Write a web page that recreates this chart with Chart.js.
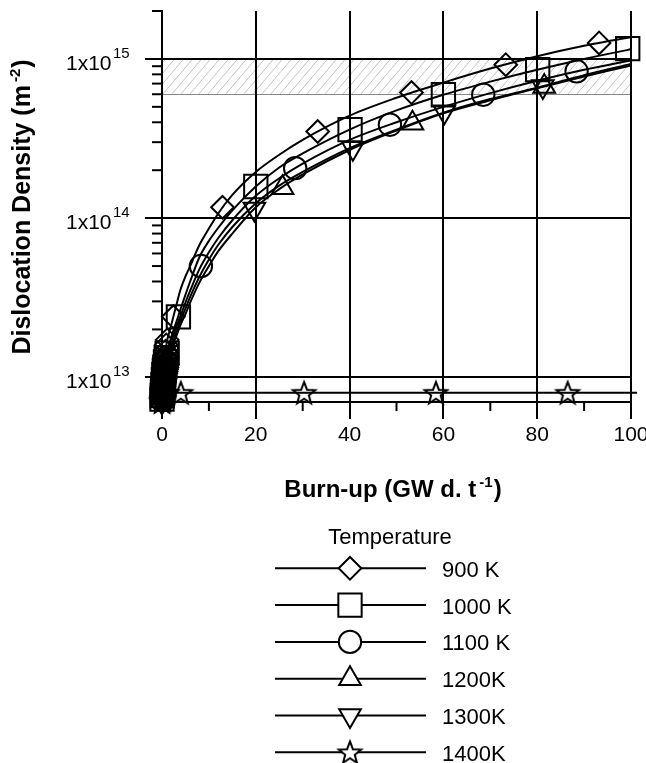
<!DOCTYPE html>
<html>
<head>
<meta charset="utf-8">
<script src="https://cdn.jsdelivr.net/npm/chart.js@4.4.0/dist/chart.umd.min.js"></script>
<style>
  html, body { margin: 0; padding: 0; background: #fff; }
  #wrap { width: 646px; height: 763px; position: relative; }
</style>
</head>
<body>
<div id="wrap"><canvas id="chart"></canvas></div>
<script>
/* Dislocation density vs burn-up, one curve per temperature */

// fitted curves, sampled at these burn-up values
const curveX    = [0, 0.5, 1, 1.5, 2, 3, 4, 5, 6, 8, 10, 12, 15, 20, 25, 30, 40, 50, 60, 70, 80, 90, 100, 101.3];
const curve900  = [7.5e12, 1.25e13, 1.65e13, 1.9e13, 2.15e13, 2.8e13, 3.6e13, 4.3e13, 5.0e13, 6.8e13, 8.6e13, 1.07e14, 1.4e14, 1.95e14, 2.5e14, 3.1e14, 4.4e14, 5.7e14, 7.1e14, 8.7e14, 1.04e15, 1.21e15, 1.37e15, 1.39e15];
const curve1000 = [7.3e12, 1.1e13, 1.38e13, 1.6e13, 1.8e13, 2.2e13, 2.7e13, 3.3e13, 4.0e13, 5.7e13, 7.2e13, 8.7e13, 1.12e14, 1.58e14, 2.08e14, 2.55e14, 3.6e14, 4.75e14, 5.96e14, 7.2e14, 8.55e14, 1.0e15, 1.15e15, 1.17e15];
const curve1100 = [7.2e12, 1.05e13, 1.3e13, 1.5e13, 1.68e13, 2.05e13, 2.45e13, 2.95e13, 3.5e13, 4.8e13, 6.1e13, 7.5e13, 9.7e13, 1.38e14, 1.78e14, 2.2e14, 3.1e14, 4.0e14, 5.0e14, 6.1e14, 7.3e14, 8.55e14, 9.8e14, 1.0e15];
const curve1200 = [7.1e12, 1.0e13, 1.23e13, 1.42e13, 1.58e13, 1.9e13, 2.3e13, 2.7e13, 3.2e13, 4.3e13, 5.5e13, 6.8e13, 8.8e13, 1.24e14, 1.6e14, 1.95e14, 2.75e14, 3.6e14, 4.6e14, 5.6e14, 6.6e14, 7.9e14, 9.3e14, 9.5e14];
const curve1300 = [7.0e12, 9.6e12, 1.17e13, 1.35e13, 1.5e13, 1.8e13, 2.15e13, 2.5e13, 2.95e13, 3.95e13, 5.0e13, 6.2e13, 8.0e13, 1.17e14, 1.52e14, 1.88e14, 2.68e14, 3.55e14, 4.55e14, 5.5e14, 6.55e14, 7.75e14, 9.1e14, 9.3e14];
const curve1400X = [0, 101.3];
const curve1400  = [8e12, 8e12];

// symbols (a dense cluster of early points near zero burn-up)
const mark900X  = [0, 0.05, 0.1, 0.15, 0.2, 0.3, 0.4, 0.5, 0.6, 0.75, 0.9, 1.1, 2.4, 12.9, 33.2, 53.2, 73.3, 93.2];
const mark900Y  = [7.5e12, 8.0e12, 8.6e12, 9.2e12, 9.8e12, 1.07e13, 1.16e13, 1.25e13, 1.33e13, 1.46e13, 1.6e13, 1.72e13, 2.4e13, 1.17e14, 3.5e14, 6.15e14, 9.2e14, 1.26e15];
const mark1000X = [0, 0.05, 0.1, 0.15, 0.2, 0.3, 0.4, 0.5, 0.6, 0.75, 0.9, 1.1, 3.5, 20, 40.1, 60, 80.1, 99.3];
const mark1000Y = [7.3e12, 7.7e12, 8.1e12, 8.5e12, 9.0e12, 9.7e12, 1.04e13, 1.1e13, 1.16e13, 1.25e13, 1.33e13, 1.42e13, 2.4e13, 1.58e14, 3.6e14, 5.96e14, 8.56e14, 1.16e15];
const mark1100X = [0, 0.05, 0.1, 0.15, 0.2, 0.3, 0.4, 0.5, 0.6, 0.75, 0.9, 1.1, 8.3, 28.4, 48.6, 68.5, 88.4];
const mark1100Y = [7.2e12, 7.6e12, 8.0e12, 8.4e12, 8.8e12, 9.4e12, 1.0e13, 1.05e13, 1.1e13, 1.18e13, 1.26e13, 1.34e13, 5.0e13, 2.06e14, 3.86e14, 5.96e14, 8.36e14];
const mark1200X = [0, 0.05, 0.1, 0.15, 0.2, 0.3, 0.4, 0.5, 0.6, 0.75, 0.9, 1.1, 25.7, 53.4, 81.5];
const mark1200Y = [7.1e12, 7.4e12, 7.8e12, 8.1e12, 8.5e12, 9.0e12, 9.5e12, 1.0e13, 1.05e13, 1.12e13, 1.2e13, 1.27e13, 1.55e14, 3.95e14, 6.7e14];
const mark1300X = [0, 0.05, 0.1, 0.15, 0.2, 0.3, 0.4, 0.5, 0.6, 0.75, 0.9, 1.1, 19.7, 40.7, 60.2, 81.2];
const mark1300Y = [7.0e12, 7.3e12, 7.6e12, 7.9e12, 8.2e12, 8.7e12, 9.2e12, 9.6e12, 1.0e13, 1.07e13, 1.14e13, 1.21e13, 1.14e14, 2.75e14, 4.65e14, 6.7e14];
const mark1400X = [0, 0.05, 0.1, 0.15, 0.2, 0.3, 0.4, 0.5, 0.6, 0.75, 0.9, 1.1, 4.0, 30.3, 58.4, 86.5];
const mark1400Y = [7.0e12, 7.1e12, 7.2e12, 7.3e12, 7.4e12, 7.5e12, 7.6e12, 7.7e12, 7.8e12, 7.9e12, 8.0e12, 8.0e12, 8.0e12, 8.0e12, 8.0e12, 8.0e12];

const seriesNames = ['900 K', '1000 K', '1100 K', '1200K', '1300K', '1400K'];

// axes
const xTickStep   = 20;
const xMinorTicks = [10, 30, 50, 70, 90];
const yMajorTicks = [1e13, 1e14, 1e15];
const yTickExp    = ['13', '14', '15'];
const yMinorTicks = [8e12, 9e12, 2e13, 3e13, 4e13, 5e13, 6e13, 7e13, 8e13, 9e13,
                     2e14, 3e14, 4e14, 5e14, 6e14, 7e14, 8e14, 9e14, 2e15];
const hatchLow  = 6e14;
const hatchHigh = 1e15;

const FONT = '"Liberation Sans", Arial, sans-serif';

function makeStar(fill) {
    const c = document.createElement('canvas');
    c.width = 30; c.height = 30;
    const g = c.getContext('2d');
    const outer = 11.8, inner = 5.0, cx = 15, cy = 16;
    g.beginPath();
    for (let i = 0; i < 10; i++) {
        const r = i % 2 ? inner : outer;
        const a = -Math.PI / 2 + i * Math.PI / 5;
        g.lineTo(cx + r * Math.cos(a), cy + r * Math.sin(a));
    }
    g.closePath();
    if (fill) { g.fillStyle = '#fff'; g.fill(); }
    g.lineWidth = 2; g.strokeStyle = '#000';
    g.stroke();
    return c;
}
const starPlot = makeStar(false);
const starLegend = makeStar(true);

const symbols = [
    { pointStyle: 'rectRot', radius: 11.3, rotation: 0 },
    { pointStyle: 'rect', radius: 16.5, rotation: 0 },
    { pointStyle: 'circle', radius: 11.2, rotation: 0 },
    { pointStyle: 'triangle', radius: 12.5, rotation: 0 },
    { pointStyle: 'triangle', radius: 12.5, rotation: 180 },
    { pointStyle: starPlot, radius: 12, rotation: 0 }
];

const pts = (xs, ys) => xs.map((x, i) => ({ x, y: ys[i] }));
const curves = [
    pts(curveX, curve900), pts(curveX, curve1000), pts(curveX, curve1100),
    pts(curveX, curve1200), pts(curveX, curve1300), pts(curve1400X, curve1400)
];
const marks = [
    pts(mark900X, mark900Y), pts(mark1000X, mark1000Y), pts(mark1100X, mark1100Y),
    pts(mark1200X, mark1200Y), pts(mark1300X, mark1300Y), pts(mark1400X, mark1400Y)
];

const datasets = [];
curves.forEach((c, i) => datasets.push({
    label: seriesNames[i] + ' fit', data: c, order: 2, clip: false,
    borderColor: '#000', borderWidth: 2, pointRadius: 0,
    cubicInterpolationMode: 'monotone', fill: false
}));
marks.forEach((m, i) => datasets.push({
    label: seriesNames[i], data: m, order: 1, clip: false, showLine: false,
    pointStyle: symbols[i].pointStyle, pointRadius: symbols[i].radius,
    pointRotation: symbols[i].rotation,
    pointBorderColor: '#000', pointBorderWidth: 2, pointBackgroundColor: 'rgba(0,0,0,0)'
}));

const hatchPlugin = {
    id: 'hatch',
    beforeDraw(chart) {
        const { ctx, scales: { x, y } } = chart;
        ctx.save();
        ctx.fillStyle = '#fff';
        ctx.fillRect(0, 0, chart.width, chart.height);
        const x0 = x.getPixelForValue(0), x1 = x.getPixelForValue(100);
        const yTop = y.getPixelForValue(hatchHigh), yBot = y.getPixelForValue(hatchLow);
        ctx.beginPath();
        ctx.rect(x0, yTop, x1 - x0, yBot - yTop);
        ctx.clip();
        ctx.strokeStyle = '#c4c4c4';
        ctx.lineWidth = 1;
        const h = yBot - yTop;
        for (let sx = x0 - h; sx < x1 + h; sx += 9) {
            ctx.beginPath();
            ctx.moveTo(sx, yBot);
            ctx.lineTo(sx + h * 0.85, yTop);
            ctx.stroke();
        }
        ctx.restore();
        ctx.save();
        ctx.strokeStyle = '#888';
        ctx.lineWidth = 1;
        ctx.beginPath();
        ctx.moveTo(x0, Math.round(yBot) + 0.5);
        ctx.lineTo(x1, Math.round(yBot) + 0.5);
        ctx.stroke();
        ctx.restore();
    }
};

const minorTicksPlugin = {
    id: 'minorTicks',
    beforeDatasetsDraw(chart) {
        const { ctx, chartArea, scales: { x, y } } = chart;
        ctx.save();
        ctx.strokeStyle = '#000';
        ctx.lineWidth = 2;
        xMinorTicks.forEach(v => {
            const px = x.getPixelForValue(v);
            ctx.beginPath();
            ctx.moveTo(px, chartArea.bottom);
            ctx.lineTo(px, chartArea.bottom + 9);
            ctx.stroke();
        });
        yMinorTicks.forEach(v => {
            const py = y.getPixelForValue(v);
            ctx.beginPath();
            ctx.moveTo(chartArea.left, py);
            ctx.lineTo(chartArea.left - 10, py);
            ctx.stroke();
        });
        ctx.restore();
    }
};

// text with a raised part in the middle: [main, sup, tail]
function drawSupText(ctx, parts, sizes, bold, cx, base, rise) {
    const f = s => (bold ? 'bold ' : '') + s + 'px ' + FONT;
    ctx.font = f(sizes[0]); const w0 = ctx.measureText(parts[0]).width;
    const w2 = ctx.measureText(parts[2]).width;
    ctx.font = f(sizes[1]); const w1 = ctx.measureText(parts[1]).width;
    let px = cx - (w0 + 3 + w1 + 1 + w2) / 2;
    ctx.textAlign = 'left';
    ctx.textBaseline = 'alphabetic';
    ctx.font = f(sizes[0]);
    ctx.fillText(parts[0], px, base);
    px += w0 + 3;
    ctx.font = f(sizes[1]);
    ctx.fillText(parts[1], px, base - rise);
    px += w1 + 1;
    ctx.font = f(sizes[0]);
    ctx.fillText(parts[2], px, base);
}

const labelsPlugin = {
    id: 'labels',
    afterDraw(chart) {
        const { ctx, scales: { y } } = chart;
        ctx.save();
        ctx.fillStyle = '#000';
        // y tick labels 1x10^n
        yMajorTicks.forEach((v, i) => {
            const py = y.getPixelForValue(v);
            ctx.font = '21px ' + FONT;
            ctx.textAlign = 'right';
            ctx.textBaseline = 'alphabetic';
            ctx.fillText('1x10', 111.5, py + 10.7);
            ctx.font = '15px ' + FONT;
            ctx.textAlign = 'left';
            ctx.fillText(yTickExp[i], 113, py - 1);
        });
        // axis titles
        drawSupText(ctx, ['Burn-up (GW d. t', '-1', ')'], [24, 15], true, 393, 497, 10);
        ctx.save();
        ctx.translate(30, 207);
        ctx.rotate(-Math.PI / 2);
        drawSupText(ctx, ['Dislocation Density (m', '-2', ')'], [25, 15], true, 0, 0, 10);
        ctx.restore();

        // legend
        ctx.font = '22px ' + FONT;
        ctx.textAlign = 'center';
        ctx.fillText('Temperature', 390, 544);
        seriesNames.forEach((name, i) => {
            const ry = 568.3 + i * 36.8;
            ctx.strokeStyle = '#000';
            ctx.lineWidth = 2;
            ctx.beginPath();
            ctx.moveTo(275, ry);
            ctx.lineTo(426, ry);
            ctx.stroke();
            ctx.fillStyle = '#fff';
            const s = symbols[i];
            Chart.helpers.drawPoint(ctx, {
                pointStyle: i === 5 ? starLegend : s.pointStyle,
                radius: s.radius, rotation: s.rotation, borderWidth: 2
            }, 350, ry);
            ctx.fillStyle = '#000';
            ctx.font = '22px ' + FONT;
            ctx.textAlign = 'left';
            ctx.fillText(name, 442, ry + 8.5);
        });
        ctx.restore();
    }
};

new Chart(document.getElementById('chart'), {
    type: 'line',
    data: { datasets },
    options: {
        responsive: true,
        maintainAspectRatio: false,
        animation: false,
        events: [],
        layout: { autoPadding: false, padding: { left: 0, right: 15, top: 11, bottom: 0 } },
        plugins: { legend: { display: false }, tooltip: { enabled: false } },
        scales: {
            x: {
                type: 'linear', min: 0, max: 100,
                ticks: { stepSize: xTickStep, color: '#000', font: { family: FONT, size: 21 }, padding: 4, maxRotation: 0 },
                grid: { color: '#000', lineWidth: 2, tickLength: 17 },
                border: { display: true, color: '#000', width: 2 },
                afterFit: s => { s.height = 361; s.paddingLeft = 0; s.paddingRight = 0; }
            },
            y: {
                type: 'logarithmic', min: 7e12, max: 2e15,
                afterBuildTicks: s => { s.ticks = yMajorTicks.map(v => ({ value: v, major: true })); },
                ticks: { display: false },
                grid: { color: '#000', lineWidth: 2, tickLength: 17 },
                border: { display: true, color: '#000', width: 2 },
                afterFit: s => { s.width = 162; s.paddingTop = 0; s.paddingBottom = 0; }
            }
        }
    },
    plugins: [hatchPlugin, minorTicksPlugin, labelsPlugin]
});
</script>
</body>
</html>
